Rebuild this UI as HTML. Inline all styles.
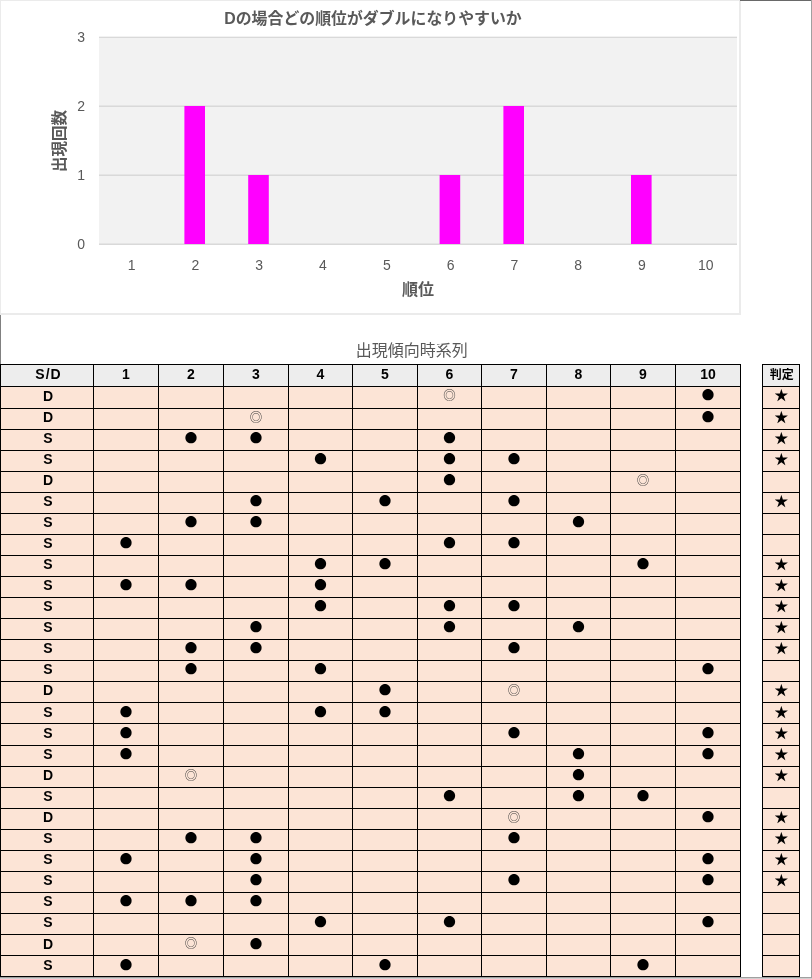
<!DOCTYPE html>
<html lang="ja">
<head>
<meta charset="utf-8">
<title>出現傾向時系列</title>
<style>
html,body{margin:0;padding:0;background:#fff;}
body{width:812px;height:979px;position:relative;overflow:hidden;font-family:"Liberation Sans","Noto Sans CJK JP",sans-serif;}
.a{position:absolute;}
.chart{left:0;top:0;width:741px;height:315px;box-sizing:border-box;border:solid #ebebeb;border-width:1px 2px 2px 1px;background:#fff;}
.plot{left:99px;top:37px;width:638px;height:207px;background:#f2f2f2;}
.gl{left:99px;width:638px;height:1px;background:#d9d9d9;}
.bar{background:#ff00ff;width:20px;}
.ct{color:#595959;white-space:nowrap;}
.xl{font-size:14px;line-height:16px;width:40px;text-align:center;top:257px;}
.yl{font-size:14px;line-height:16px;width:30px;text-align:right;left:55px;}
.hl{background:#000;height:1px;}
.vl{background:#000;width:1px;}
.c{position:absolute;text-align:center;font-weight:bold;font-size:14px;line-height:20px;height:20px;color:#000;white-space:nowrap;}
.s{font-family:"Noto Sans CJK JP","Liberation Sans",sans-serif;font-size:13px;}
.dot{font-size:12.5px;}
.ring{font-size:12.5px;color:#3a3a3a;font-weight:normal;}
.st{font-size:13.7px;}
</style>
</head>
<body>
<div class="a chart"></div>
<div class="a plot"></div>
<div class="a gl" style="top:36px;background:rgba(0,0,0,0.05)"></div><div class="a gl" style="top:37px"></div>
<div class="a gl" style="top:105px;background:rgba(0,0,0,0.05)"></div><div class="a gl" style="top:106px"></div>
<div class="a gl" style="top:174px;background:rgba(0,0,0,0.05)"></div><div class="a gl" style="top:175px"></div>
<div class="a gl" style="top:243px;background:rgba(0,0,0,0.05)"></div><div class="a gl" style="top:244px"></div>
<svg class="a" style="left:0;top:0" width="740" height="315" viewBox="0 0 740 315"><rect x="184.40" y="106" width="20.6" height="138" fill="#ff00ff"/><rect x="248.20" y="175" width="20.6" height="69" fill="#ff00ff"/><rect x="439.60" y="175" width="20.6" height="69" fill="#ff00ff"/><rect x="503.40" y="106" width="20.6" height="138" fill="#ff00ff"/><rect x="631.00" y="175" width="20.6" height="69" fill="#ff00ff"/></svg>
<div class="a ct xl" style="left:111.6px">1</div>
<div class="a ct xl" style="left:175.4px">2</div>
<div class="a ct xl" style="left:239.2px">3</div>
<div class="a ct xl" style="left:303.0px">4</div>
<div class="a ct xl" style="left:366.8px">5</div>
<div class="a ct xl" style="left:430.6px">6</div>
<div class="a ct xl" style="left:494.4px">7</div>
<div class="a ct xl" style="left:558.2px">8</div>
<div class="a ct xl" style="left:622.0px">9</div>
<div class="a ct xl" style="left:685.8px">10</div>
<div class="a ct yl" style="top:29px">3</div>
<div class="a ct yl" style="top:98px">2</div>
<div class="a ct yl" style="top:167px">1</div>
<div class="a ct yl" style="top:236px">0</div>
<div class="a ct" style="left:173px;top:7px;width:400px;text-align:center;font-weight:bold;font-size:15.9px;line-height:24px">Dの場合どの順位がダブルになりやすいか</div>
<div class="a ct" style="left:368px;top:278px;width:100px;text-align:center;font-weight:bold;font-size:16px;line-height:24px">順位</div>
<div class="a ct" style="left:10px;top:128.5px;width:100px;text-align:center;font-weight:bold;font-size:15.5px;line-height:24px;transform:rotate(-90deg)">出現回数</div>
<div class="a" style="left:740px;top:0;width:72px;height:1px;background:#696969"></div>
<div class="a" style="left:811px;top:0;width:1px;height:979px;background:#a0a0a0"></div>
<div class="a" style="left:0;top:315px;width:1px;height:50px;background:#808080"></div>
<div class="a" style="left:0;top:977px;width:812px;height:1px;background:#a0a0a0"></div>
<div class="a" style="left:0;top:978px;width:812px;height:1px;background:#d0d0d0"></div>
<div class="a" style="left:311.7px;top:339.5px;width:200px;text-align:center;font-size:16px;line-height:22px;color:#595959;white-space:nowrap">出現傾向時系列</div>
<div class="a" style="left:0;top:364px;width:741px;height:23px;background:#ededed"></div>
<div class="a" style="left:0;top:387px;width:741px;height:590px;background:#fce4d6"></div>
<div class="a" style="left:762px;top:364px;width:38px;height:23px;background:#ededed"></div>
<div class="a" style="left:762px;top:387px;width:38px;height:590px;background:#fce4d6"></div>
<div class="a hl" style="left:0;top:364px;width:741px"></div><div class="a hl" style="left:762px;top:364px;width:38px"></div>
<div class="a hl" style="left:0;top:386px;width:741px"></div><div class="a hl" style="left:762px;top:386px;width:38px"></div>
<div class="a hl" style="left:0;top:408px;width:741px"></div><div class="a hl" style="left:762px;top:408px;width:38px"></div>
<div class="a hl" style="left:0;top:429px;width:741px"></div><div class="a hl" style="left:762px;top:429px;width:38px"></div>
<div class="a hl" style="left:0;top:450px;width:741px"></div><div class="a hl" style="left:762px;top:450px;width:38px"></div>
<div class="a hl" style="left:0;top:471px;width:741px"></div><div class="a hl" style="left:762px;top:471px;width:38px"></div>
<div class="a hl" style="left:0;top:492px;width:741px"></div><div class="a hl" style="left:762px;top:492px;width:38px"></div>
<div class="a hl" style="left:0;top:513px;width:741px"></div><div class="a hl" style="left:762px;top:513px;width:38px"></div>
<div class="a hl" style="left:0;top:534px;width:741px"></div><div class="a hl" style="left:762px;top:534px;width:38px"></div>
<div class="a hl" style="left:0;top:555px;width:741px"></div><div class="a hl" style="left:762px;top:555px;width:38px"></div>
<div class="a hl" style="left:0;top:576px;width:741px"></div><div class="a hl" style="left:762px;top:576px;width:38px"></div>
<div class="a hl" style="left:0;top:597px;width:741px"></div><div class="a hl" style="left:762px;top:597px;width:38px"></div>
<div class="a hl" style="left:0;top:618px;width:741px"></div><div class="a hl" style="left:762px;top:618px;width:38px"></div>
<div class="a hl" style="left:0;top:639px;width:741px"></div><div class="a hl" style="left:762px;top:639px;width:38px"></div>
<div class="a hl" style="left:0;top:660px;width:741px"></div><div class="a hl" style="left:762px;top:660px;width:38px"></div>
<div class="a hl" style="left:0;top:681px;width:741px"></div><div class="a hl" style="left:762px;top:681px;width:38px"></div>
<div class="a hl" style="left:0;top:702px;width:741px"></div><div class="a hl" style="left:762px;top:702px;width:38px"></div>
<div class="a hl" style="left:0;top:723px;width:741px"></div><div class="a hl" style="left:762px;top:723px;width:38px"></div>
<div class="a hl" style="left:0;top:745px;width:741px"></div><div class="a hl" style="left:762px;top:745px;width:38px"></div>
<div class="a hl" style="left:0;top:766px;width:741px"></div><div class="a hl" style="left:762px;top:766px;width:38px"></div>
<div class="a hl" style="left:0;top:787px;width:741px"></div><div class="a hl" style="left:762px;top:787px;width:38px"></div>
<div class="a hl" style="left:0;top:808px;width:741px"></div><div class="a hl" style="left:762px;top:808px;width:38px"></div>
<div class="a hl" style="left:0;top:829px;width:741px"></div><div class="a hl" style="left:762px;top:829px;width:38px"></div>
<div class="a hl" style="left:0;top:850px;width:741px"></div><div class="a hl" style="left:762px;top:850px;width:38px"></div>
<div class="a hl" style="left:0;top:871px;width:741px"></div><div class="a hl" style="left:762px;top:871px;width:38px"></div>
<div class="a hl" style="left:0;top:892px;width:741px"></div><div class="a hl" style="left:762px;top:892px;width:38px"></div>
<div class="a hl" style="left:0;top:913px;width:741px"></div><div class="a hl" style="left:762px;top:913px;width:38px"></div>
<div class="a hl" style="left:0;top:934px;width:741px"></div><div class="a hl" style="left:762px;top:934px;width:38px"></div>
<div class="a hl" style="left:0;top:955px;width:741px"></div><div class="a hl" style="left:762px;top:955px;width:38px"></div>
<div class="a hl" style="left:0;top:976px;width:741px"></div><div class="a hl" style="left:762px;top:976px;width:38px"></div>
<div class="a vl" style="left:0px;top:364px;height:613px"></div>
<div class="a vl" style="left:93px;top:364px;height:613px"></div>
<div class="a vl" style="left:158px;top:364px;height:613px"></div>
<div class="a vl" style="left:223px;top:364px;height:613px"></div>
<div class="a vl" style="left:288px;top:364px;height:613px"></div>
<div class="a vl" style="left:352px;top:364px;height:613px"></div>
<div class="a vl" style="left:417px;top:364px;height:613px"></div>
<div class="a vl" style="left:481px;top:364px;height:613px"></div>
<div class="a vl" style="left:546px;top:364px;height:613px"></div>
<div class="a vl" style="left:610px;top:364px;height:613px"></div>
<div class="a vl" style="left:675px;top:364px;height:613px"></div>
<div class="a vl" style="left:740px;top:364px;height:613px"></div>
<div class="a vl" style="left:762px;top:364px;height:613px"></div>
<div class="a vl" style="left:799px;top:364px;height:613px"></div>
<div class="c" style="left:1.5px;width:94px;top:364px;letter-spacing:1px;">S/D</div><div class="c" style="left:93px;width:66px;top:364px;">1</div><div class="c" style="left:158px;width:66px;top:364px;">2</div><div class="c" style="left:223px;width:66px;top:364px;">3</div><div class="c" style="left:288px;width:65px;top:364px;">4</div><div class="c" style="left:352px;width:66px;top:364px;">5</div><div class="c" style="left:417px;width:65px;top:364px;">6</div><div class="c" style="left:481px;width:66px;top:364px;">7</div><div class="c" style="left:546px;width:65px;top:364px;">8</div><div class="c" style="left:610px;width:66px;top:364px;">9</div><div class="c" style="left:675px;width:66px;top:364px;">10</div><div class="c" style="left:762.7px;width:38px;top:365px;font-size:12px;">判定</div>
<div class="c" style="left:1px;width:94px;top:386px;">D</div><div class="c s ring" style="left:417px;width:65px;top:384.7px;">◎</div><div class="c s dot" style="left:675px;width:66px;top:385px;">●</div><div class="c s st" style="left:762.3px;width:38px;top:384px;">★</div>
<div class="c" style="left:1px;width:94px;top:407px;">D</div><div class="c s ring" style="left:223px;width:66px;top:406.7px;">◎</div><div class="c s dot" style="left:675px;width:66px;top:407px;">●</div><div class="c s st" style="left:762.3px;width:38px;top:406px;">★</div>
<div class="c" style="left:1px;width:94px;top:428px;">S</div><div class="c s dot" style="left:158px;width:66px;top:428px;">●</div><div class="c s dot" style="left:223px;width:66px;top:428px;">●</div><div class="c s dot" style="left:417px;width:65px;top:428px;">●</div><div class="c s st" style="left:762.3px;width:38px;top:427px;">★</div>
<div class="c" style="left:1px;width:94px;top:449px;">S</div><div class="c s dot" style="left:288px;width:65px;top:449px;">●</div><div class="c s dot" style="left:417px;width:65px;top:449px;">●</div><div class="c s dot" style="left:481px;width:66px;top:449px;">●</div><div class="c s st" style="left:762.3px;width:38px;top:448px;">★</div>
<div class="c" style="left:1px;width:94px;top:470px;">D</div><div class="c s dot" style="left:417px;width:65px;top:470px;">●</div><div class="c s ring" style="left:610px;width:66px;top:469.7px;">◎</div>
<div class="c" style="left:1px;width:94px;top:491px;">S</div><div class="c s dot" style="left:223px;width:66px;top:491px;">●</div><div class="c s dot" style="left:352px;width:66px;top:491px;">●</div><div class="c s dot" style="left:481px;width:66px;top:491px;">●</div><div class="c s st" style="left:762.3px;width:38px;top:490px;">★</div>
<div class="c" style="left:1px;width:94px;top:512px;">S</div><div class="c s dot" style="left:158px;width:66px;top:512px;">●</div><div class="c s dot" style="left:223px;width:66px;top:512px;">●</div><div class="c s dot" style="left:546px;width:65px;top:512px;">●</div>
<div class="c" style="left:1px;width:94px;top:533px;">S</div><div class="c s dot" style="left:93px;width:66px;top:533px;">●</div><div class="c s dot" style="left:417px;width:65px;top:533px;">●</div><div class="c s dot" style="left:481px;width:66px;top:533px;">●</div>
<div class="c" style="left:1px;width:94px;top:554px;">S</div><div class="c s dot" style="left:288px;width:65px;top:554px;">●</div><div class="c s dot" style="left:352px;width:66px;top:554px;">●</div><div class="c s dot" style="left:610px;width:66px;top:554px;">●</div><div class="c s st" style="left:762.3px;width:38px;top:553px;">★</div>
<div class="c" style="left:1px;width:94px;top:575px;">S</div><div class="c s dot" style="left:93px;width:66px;top:575px;">●</div><div class="c s dot" style="left:158px;width:66px;top:575px;">●</div><div class="c s dot" style="left:288px;width:65px;top:575px;">●</div><div class="c s st" style="left:762.3px;width:38px;top:574px;">★</div>
<div class="c" style="left:1px;width:94px;top:596px;">S</div><div class="c s dot" style="left:288px;width:65px;top:596px;">●</div><div class="c s dot" style="left:417px;width:65px;top:596px;">●</div><div class="c s dot" style="left:481px;width:66px;top:596px;">●</div><div class="c s st" style="left:762.3px;width:38px;top:595px;">★</div>
<div class="c" style="left:1px;width:94px;top:617px;">S</div><div class="c s dot" style="left:223px;width:66px;top:617px;">●</div><div class="c s dot" style="left:417px;width:65px;top:617px;">●</div><div class="c s dot" style="left:546px;width:65px;top:617px;">●</div><div class="c s st" style="left:762.3px;width:38px;top:616px;">★</div>
<div class="c" style="left:1px;width:94px;top:638px;">S</div><div class="c s dot" style="left:158px;width:66px;top:638px;">●</div><div class="c s dot" style="left:223px;width:66px;top:638px;">●</div><div class="c s dot" style="left:481px;width:66px;top:638px;">●</div><div class="c s st" style="left:762.3px;width:38px;top:637px;">★</div>
<div class="c" style="left:1px;width:94px;top:659px;">S</div><div class="c s dot" style="left:158px;width:66px;top:659px;">●</div><div class="c s dot" style="left:288px;width:65px;top:659px;">●</div><div class="c s dot" style="left:675px;width:66px;top:659px;">●</div>
<div class="c" style="left:1px;width:94px;top:680px;">D</div><div class="c s dot" style="left:352px;width:66px;top:680px;">●</div><div class="c s ring" style="left:481px;width:66px;top:679.7px;">◎</div><div class="c s st" style="left:762.3px;width:38px;top:679px;">★</div>
<div class="c" style="left:1px;width:94px;top:701.6px;">S</div><div class="c s dot" style="left:93px;width:66px;top:701.6px;">●</div><div class="c s dot" style="left:288px;width:65px;top:701.6px;">●</div><div class="c s dot" style="left:352px;width:66px;top:701.6px;">●</div><div class="c s st" style="left:762.3px;width:38px;top:700.6px;">★</div>
<div class="c" style="left:1px;width:94px;top:723px;">S</div><div class="c s dot" style="left:93px;width:66px;top:722.5px;">●</div><div class="c s dot" style="left:481px;width:66px;top:722.5px;">●</div><div class="c s dot" style="left:675px;width:66px;top:722.5px;">●</div><div class="c s st" style="left:762.3px;width:38px;top:721.5px;">★</div>
<div class="c" style="left:1px;width:94px;top:744px;">S</div><div class="c s dot" style="left:93px;width:66px;top:744px;">●</div><div class="c s dot" style="left:546px;width:65px;top:744px;">●</div><div class="c s dot" style="left:675px;width:66px;top:744px;">●</div><div class="c s st" style="left:762.3px;width:38px;top:743px;">★</div>
<div class="c" style="left:1px;width:94px;top:765px;">D</div><div class="c s ring" style="left:158px;width:66px;top:764.7px;">◎</div><div class="c s dot" style="left:546px;width:65px;top:765px;">●</div><div class="c s st" style="left:762.3px;width:38px;top:764px;">★</div>
<div class="c" style="left:1px;width:94px;top:786px;">S</div><div class="c s dot" style="left:417px;width:65px;top:786px;">●</div><div class="c s dot" style="left:546px;width:65px;top:786px;">●</div><div class="c s dot" style="left:610px;width:66px;top:786px;">●</div>
<div class="c" style="left:1px;width:94px;top:807px;">D</div><div class="c s ring" style="left:481px;width:66px;top:806.7px;">◎</div><div class="c s dot" style="left:675px;width:66px;top:807px;">●</div><div class="c s st" style="left:762.3px;width:38px;top:806px;">★</div>
<div class="c" style="left:1px;width:94px;top:828px;">S</div><div class="c s dot" style="left:158px;width:66px;top:828px;">●</div><div class="c s dot" style="left:223px;width:66px;top:828px;">●</div><div class="c s dot" style="left:481px;width:66px;top:828px;">●</div><div class="c s st" style="left:762.3px;width:38px;top:827px;">★</div>
<div class="c" style="left:1px;width:94px;top:849px;">S</div><div class="c s dot" style="left:93px;width:66px;top:849px;">●</div><div class="c s dot" style="left:223px;width:66px;top:849px;">●</div><div class="c s dot" style="left:675px;width:66px;top:849px;">●</div><div class="c s st" style="left:762.3px;width:38px;top:848px;">★</div>
<div class="c" style="left:1px;width:94px;top:870px;">S</div><div class="c s dot" style="left:223px;width:66px;top:870px;">●</div><div class="c s dot" style="left:481px;width:66px;top:870px;">●</div><div class="c s dot" style="left:675px;width:66px;top:870px;">●</div><div class="c s st" style="left:762.3px;width:38px;top:869px;">★</div>
<div class="c" style="left:1px;width:94px;top:891px;">S</div><div class="c s dot" style="left:93px;width:66px;top:891px;">●</div><div class="c s dot" style="left:158px;width:66px;top:891px;">●</div><div class="c s dot" style="left:223px;width:66px;top:891px;">●</div>
<div class="c" style="left:1px;width:94px;top:912px;">S</div><div class="c s dot" style="left:288px;width:65px;top:912px;">●</div><div class="c s dot" style="left:417px;width:65px;top:912px;">●</div><div class="c s dot" style="left:675px;width:66px;top:912px;">●</div>
<div class="c" style="left:1px;width:94px;top:933.6px;">D</div><div class="c s ring" style="left:158px;width:66px;top:933.3px;">◎</div><div class="c s dot" style="left:223px;width:66px;top:933.6px;">●</div>
<div class="c" style="left:1px;width:94px;top:954.7px;">S</div><div class="c s dot" style="left:93px;width:66px;top:954.7px;">●</div><div class="c s dot" style="left:352px;width:66px;top:954.7px;">●</div><div class="c s dot" style="left:610px;width:66px;top:954.7px;">●</div>
</body>
</html>
